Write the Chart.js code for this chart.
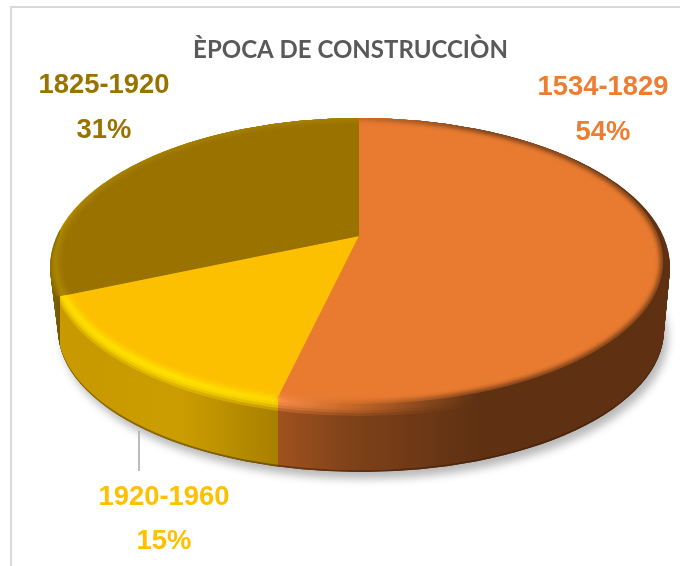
<!DOCTYPE html>
<html>
<head>
<meta charset="utf-8">
<style>
  html, body { margin: 0; padding: 0; background: #fff; }
  canvas { display: block; }
</style>
<script src="https://cdn.jsdelivr.net/npm/chart.js@4"></script>
</head>
<body>
<canvas id="pie" width="680" height="566"></canvas>
<script>
const chartTitle = 'ÈPOCA DE CONSTRUCCIÒN';
const categories = ['1534-1829', '1920-1960', '1825-1920'];
const shares = [54, 15, 31];
const sliceColors = ['#e97b30', '#fcc000', '#997200'];
const textColors = ['#ed7d31', '#ffc000', '#997300'];

// look of the tilted disc
const apex = { x: 359, y: 236 };
const squash = 0.51;
const topRim = { x: 360, y: 267, rx: 310, ry: 149 };
const bottomRim = { x: 361, y: 330, rx: 303, ry: 142 };
const labelSpots = [
  { x: 603, y: 87, gap: 45 },
  { x: 164, y: 497, gap: 44 },
  { x: 104, y: 85, gap: 45 },
];

function ellipsePath(ctx, e) {
  ctx.beginPath();
  ctx.ellipse(e.x, e.y, e.rx, e.ry, 0, 0, Math.PI * 2);
}

// rim shrunk towards the top of the disc, t = 1 is the inner edge of the bevel
function insetRim(t) {
  return {
    x: topRim.x,
    y: topRim.y - 7 * t,
    rx: topRim.rx - 8 * t,
    ry: topRim.ry - 7 * t,
  };
}

// where a slice edge meets the disc, the edge stops at the bevel's lower side
function rimPoint(angle) {
  const e = { x: topRim.x, y: topRim.y - 7, rx: topRim.rx, ry: topRim.ry - 7 };
  const dx = Math.cos(angle);
  const dy = squash * Math.sin(angle);
  const ox = (apex.x - e.x) / e.rx;
  const oy = (apex.y - e.y) / e.ry;
  const ux = dx / e.rx;
  const uy = dy / e.ry;
  const a = ux * ux + uy * uy;
  const b = 2 * (ox * ux + oy * uy);
  const c = ox * ox + oy * oy - 1;
  const t = (-b + Math.sqrt(b * b - 4 * a * c)) / (2 * a);
  return { x: apex.x + t * dx, y: apex.y + t * dy };
}

function bandGradient(ctx, arcs, brown, yellow, orange) {
  const x0 = 40;
  const x1 = 680;
  const pos = x => Math.min(1, Math.max(0, (x - x0) / (x1 - x0)));
  const leftEdge = rimPoint(arcs[1].endAngle).x;
  const midEdge = rimPoint(arcs[0].endAngle).x;
  const g = ctx.createLinearGradient(x0, 0, x1, 0);
  g.addColorStop(0, brown[0]);
  g.addColorStop(pos(leftEdge), brown[1]);
  g.addColorStop(pos(leftEdge) + 0.0001, yellow[0]);
  g.addColorStop(pos(leftEdge + 120), yellow[1]);
  g.addColorStop(pos(midEdge), yellow[2]);
  g.addColorStop(pos(midEdge) + 0.0001, orange[0]);
  g.addColorStop(pos(midEdge + 70), orange[1]);
  g.addColorStop(pos(midEdge + 200), orange[2]);
  g.addColorStop(1, orange[2]);
  return g;
}

// runs paint once for the back brown part and once for the front and right part
function paintRimParts(ctx, arcs, paint) {
  const p = rimPoint(arcs[1].endAngle);
  ctx.save();
  ctx.beginPath();
  ctx.moveTo(apex.x, apex.y);
  ctx.lineTo(p.x, p.y);
  ctx.lineTo(0, p.y);
  ctx.lineTo(0, 0);
  ctx.lineTo(apex.x, 0);
  ctx.closePath();
  ctx.clip();
  paint('#a98400');
  ctx.restore();

  ctx.save();
  ctx.beginPath();
  ctx.moveTo(apex.x, apex.y);
  ctx.lineTo(apex.x, 0);
  ctx.lineTo(680, 0);
  ctx.lineTo(680, 566);
  ctx.lineTo(0, 566);
  ctx.lineTo(0, p.y);
  ctx.lineTo(p.x, p.y);
  ctx.closePath();
  ctx.clip();
  paint(bandGradient(ctx, arcs,
    ['#a98400', '#8a6a00'],
    ['#ffdc00', '#ffe000', '#ffd800'],
    ['#f88c48', '#c86a2a', '#5f3112']));
  ctx.restore();
}

const discPlugin = {
  id: 'disc',
  beforeDraw(chart) {
    const ctx = chart.ctx;
    ctx.save();
    ctx.strokeStyle = '#d9d9d9';
    ctx.lineWidth = 2;
    ctx.beginPath();
    ctx.moveTo(11, 566);
    ctx.lineTo(11, 7);
    ctx.lineTo(680, 7);
    ctx.stroke();
    ctx.restore();
  },
  beforeDatasetsDraw(chart) {
    const ctx = chart.ctx;
    const arcs = chart.getDatasetMeta(0).data;

    // soft shadow under the disc
    ctx.save();
    ctx.shadowColor = 'rgba(0,0,0,0.28)';
    ctx.shadowBlur = 9;
    ctx.shadowOffsetX = 4;
    ctx.shadowOffsetY = 7;
    ctx.fillStyle = '#5a3010';
    ellipsePath(ctx, bottomRim);
    ctx.fill();
    ctx.restore();

    // side wall: stacked ellipses from the bottom rim up to the top rim
    const wall = bandGradient(ctx, arcs,
      ['#a58000', '#6f5500'],
      ['#c89900', '#cc9d00', '#a87f00'],
      ['#a0521f', '#804219', '#5f3112']);
    const rim = bandGradient(ctx, arcs,
      ['#7a5e00', '#4f3d00'],
      ['#8f6e00', '#8a6a00', '#6f5300'],
      ['#6e3815', '#5a2e10', '#4a260c']);
    const steps = 64;
    for (let i = 0; i <= steps; i++) {
      const t = i / steps;
      ctx.fillStyle = i < 2 ? rim : wall;
      ellipsePath(ctx, {
        x: bottomRim.x + (topRim.x - bottomRim.x) * t,
        y: bottomRim.y + (topRim.y - bottomRim.y) * t,
        rx: bottomRim.rx + (topRim.rx - bottomRim.rx) * t,
        ry: bottomRim.ry + (topRim.ry - bottomRim.ry) * t,
      });
      ctx.fill();
    }

    // bevel band under the slices, fading out into the wall on its outer side
    paintRimParts(ctx, arcs, style => {
      ctx.fillStyle = style;
      for (let k = 0; k < 5; k++) {
        ctx.globalAlpha = 0.35 + k * 0.15;
        ellipsePath(ctx, insetRim(k / 5));
        ctx.fill();
      }
      ctx.globalAlpha = 1;
    });

    // the slices themselves are drawn by Chart.js, tilted and cut to the bevel
    const first = arcs[0];
    ctx.save();
    ellipsePath(ctx, insetRim(0.85));
    ctx.clip();
    ctx.translate(apex.x, apex.y);
    ctx.scale(1, squash);
    ctx.translate(-first.x, -first.y);
  },
  afterDatasetsDraw(chart) {
    const ctx = chart.ctx;
    const arcs = chart.getDatasetMeta(0).data;
    ctx.restore();

    // bevel feathered over the slices
    ctx.save();
    ellipsePath(ctx, insetRim(0.3));
    ctx.clip();
    paintRimParts(ctx, arcs, style => {
      ctx.filter = 'blur(2.5px)';
      ctx.strokeStyle = style;
      ctx.lineWidth = 5;
      ellipsePath(ctx, insetRim(0.85));
      ctx.stroke();
      ctx.filter = 'none';
    });
    ctx.restore();

    // leader line of the small slice
    ctx.save();
    ctx.strokeStyle = '#a6a6a6';
    ctx.lineWidth = 1.5;
    ctx.beginPath();
    ctx.moveTo(139, 431);
    ctx.lineTo(139, 471);
    ctx.stroke();

    // labels
    ctx.font = 'bold 27.4px "Liberation Sans", Arial, sans-serif';
    ctx.textAlign = 'center';
    ctx.textBaseline = 'middle';
    categories.forEach((name, i) => {
      const spot = labelSpots[i];
      ctx.fillStyle = textColors[i];
      ctx.fillText(name, spot.x, spot.y);
      ctx.fillText(shares[i] + '%', spot.x, spot.y + spot.gap);
    });
    ctx.restore();
  },
};

new Chart(document.getElementById('pie'), {
  type: 'pie',
  data: {
    labels: categories,
    datasets: [{
      data: shares,
      backgroundColor: sliceColors,
      borderWidth: 0,
      clip: false,
    }],
  },
  options: {
    responsive: false,
    animation: false,
    radius: 420,
    layout: { padding: { left: 21 } },
    events: [],
    plugins: {
      legend: { display: false },
      tooltip: { enabled: false },
      title: {
        display: true,
        text: chartTitle,
        color: '#595959',
        font: { family: 'Lato, "Open Sans", sans-serif', size: 24, weight: 'bold' },
        padding: { top: 36, bottom: 0 },
      },
    },
  },
  plugins: [discPlugin],
});
</script>
</body>
</html>
